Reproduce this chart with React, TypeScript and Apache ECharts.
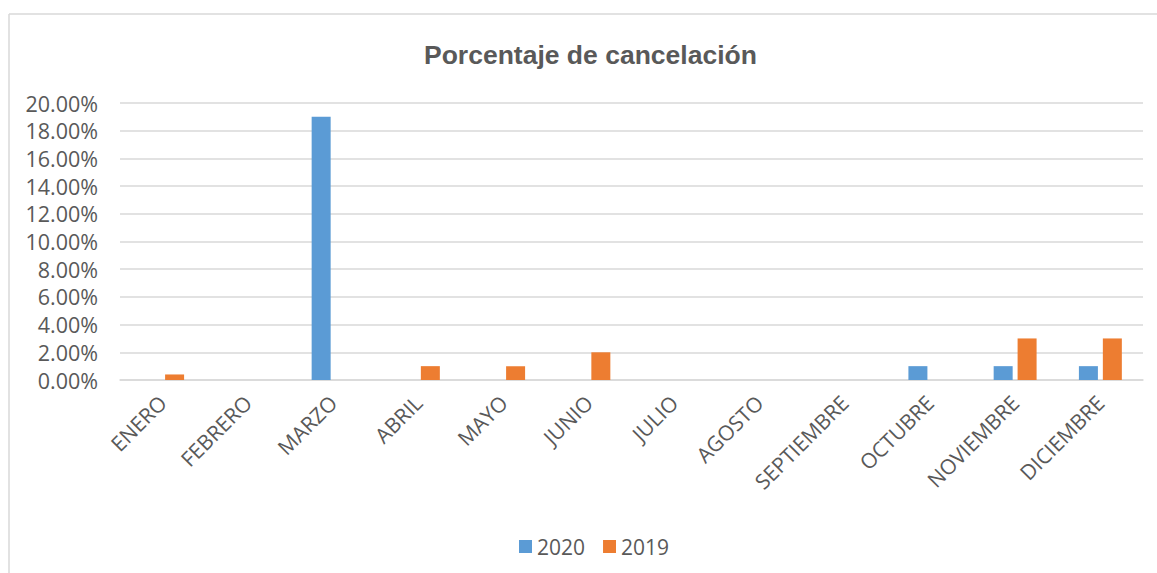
import React, { useEffect, useRef } from "react";
import * as echarts from "echarts";

const categories = [
  "ENERO", "FEBRERO", "MARZO", "ABRIL", "MAYO", "JUNIO",
  "JULIO", "AGOSTO", "SEPTIEMBRE", "OCTUBRE", "NOVIEMBRE", "DICIEMBRE",
];
const values2020 = [0, 0, 19, 0, 0, 0, 0, 0, 0, 1, 1, 1];
const values2019 = [0.4, 0, 0, 1, 1, 2, 0, 0, 0, 0, 3, 3];

const FONT = "'Open Sans', 'Noto Sans', sans-serif";
const TXT = "#595959";

export default function App() {
  const ref = useRef<HTMLDivElement>(null);
  useEffect(() => {
    if (!ref.current) return;
    const chart = echarts.init(ref.current, undefined, { renderer: "svg" });
    chart.setOption({
      animation: false,
      backgroundColor: "#ffffff",
      title: {
        text: "Porcentaje de cancelación",
        left: 419,
        top: 36,
        textStyle: {
          fontFamily: "'Liberation Sans', Arial, sans-serif",
          fontWeight: "bold",
          fontSize: 26.5,
          color: TXT,
        },
      },
      graphic: [
        { type: "line", shape: { x1: 9, y1: 14, x2: 1157, y2: 14 }, style: { stroke: "#d9d9d9", lineWidth: 1.5 } },
        { type: "line", shape: { x1: 9, y1: 14, x2: 9, y2: 573 }, style: { stroke: "#d9d9d9", lineWidth: 1.5 } },
      ],
      legend: {
        data: ["2020", "2019"],
        top: 531,
        left: 514,
        itemWidth: 13,
        itemHeight: 13,
        itemGap: 18,
        icon: "rect",
        textStyle: { fontFamily: FONT, fontSize: 21, color: TXT },
      },
      grid: { left: 120, right: 14, top: 103, bottom: 193 },
      xAxis: {
        type: "category",
        data: categories,
        axisLine: { lineStyle: { color: "#d9d9d9", width: 1.5 } },
        axisTick: { show: false },
        axisLabel: {
          rotate: 45,
          interval: 0,
          margin: 19,
          fontFamily: FONT,
          fontSize: 21,
          color: TXT,
        },
      },
      yAxis: {
        type: "value",
        min: 0,
        max: 20,
        interval: 2,
        axisLine: { show: false },
        axisTick: { show: false },
        splitLine: { lineStyle: { color: "#d9d9d9", width: 1.5 } },
        axisLabel: {
          margin: 22,
          fontFamily: FONT,
          fontSize: 21.5,
          color: TXT,
          formatter: (v: number) => v.toFixed(2) + "%",
        },
      },
      series: [
        {
          name: "2020",
          type: "bar",
          data: values2020,
          barWidth: 19,
          barGap: "26%",
          itemStyle: { color: "#5B9BD5" },
        },
        {
          name: "2019",
          type: "bar",
          data: values2019,
          barWidth: 19,
          barGap: "26%",
          itemStyle: { color: "#ED7D31" },
        },
      ],
    });
    return () => chart.dispose();
  }, []);
  return (
    <div
      ref={ref}
      style={{ position: "fixed", left: 0, top: 0, width: 1157, height: 573 }}
    />
  );
}
